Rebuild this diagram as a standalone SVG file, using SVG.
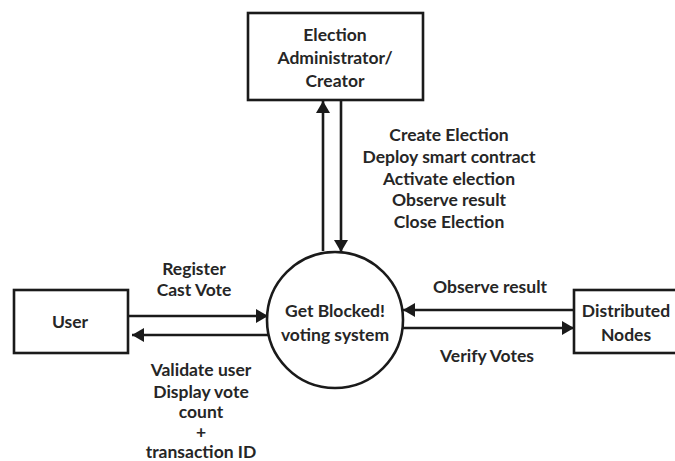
<svg xmlns="http://www.w3.org/2000/svg" width="675" height="461" viewBox="0 0 675 461">
  <style>
    .box { fill: #fff; stroke: #1a1a1a; stroke-width: 2.6; }
    .flow { fill: none; stroke: #1a1a1a; stroke-width: 2.6; }
    text { font-family: Lato, "Open Sans", sans-serif; font-weight: 700; font-size: 17.5px; fill: #262626; text-anchor: middle; }
  </style>
  <defs>
    <marker id="head" viewBox="0 0 12 14" refX="12" refY="7" markerWidth="12" markerHeight="14" markerUnits="userSpaceOnUse" orient="auto">
      <path d="M0,0 L12,7 L0,14 Z" fill="#1a1a1a"/>
    </marker>
  </defs>
  <rect width="675" height="461" fill="#fff"/>

  <g id="connectors">
    <line class="flow" x1="323" y1="251" x2="323" y2="101" marker-end="url(#head)"/>
    <line class="flow" x1="341" y1="100" x2="341" y2="252" marker-end="url(#head)"/>
    <line class="flow" x1="128" y1="316" x2="268" y2="316" marker-end="url(#head)"/>
    <line class="flow" x1="268" y1="335" x2="132" y2="335" marker-end="url(#head)"/>
    <line class="flow" x1="574" y1="310" x2="403" y2="310" marker-end="url(#head)"/>
    <line class="flow" x1="402" y1="328" x2="574" y2="328" marker-end="url(#head)"/>
    <text x="449" y="141">Create Election</text>
    <text x="449" y="163">Deploy smart contract</text>
    <text x="449" y="185">Activate election</text>
    <text x="449" y="206">Observe result</text>
    <text x="449" y="228">Close Election</text>
    <text x="194" y="275">Register</text>
    <text x="194" y="296">Cast Vote</text>
    <text x="201" y="376">Validate user</text>
    <text x="201" y="398">Display vote</text>
    <text x="201" y="418">count</text>
    <text x="201" y="438">+</text>
    <text x="201" y="458">transaction ID</text>
    <text x="490" y="293">Observe result</text>
    <text x="487" y="362">Verify Votes</text>
  </g>

  <g id="admin">
    <rect class="box" x="248" y="13" width="175" height="87"/>
    <text x="335" y="41">Election</text>
    <text x="335" y="64">Administrator/</text>
    <text x="335" y="87">Creator</text>
  </g>

  <g id="system">
    <circle class="box" cx="335" cy="320" r="68"/>
    <text x="335" y="317">Get Blocked!</text>
    <text x="335" y="341">voting system</text>
  </g>

  <g id="user">
    <rect class="box" x="14" y="290" width="114" height="63"/>
    <text x="70" y="328">User</text>
  </g>

  <g id="nodes">
    <rect class="box" x="574" y="290" width="110" height="63"/>
    <text x="626" y="317">Distributed</text>
    <text x="626" y="341">Nodes</text>
  </g>
</svg>
